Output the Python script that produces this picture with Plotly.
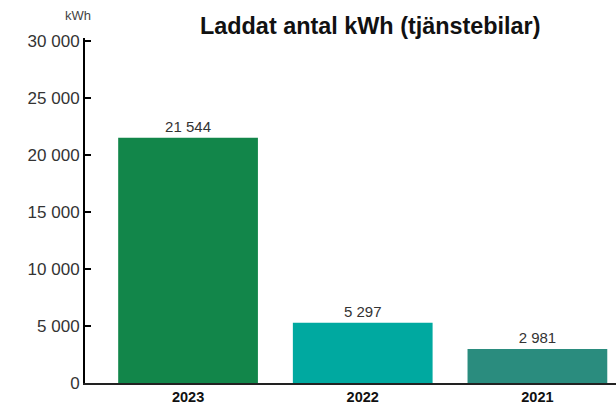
import plotly.graph_objects as go

years = ["2023", "2022", "2021"]
kwh = [21544, 5297, 2981]
value_labels = ["21 544", "5 297", "2 981"]
bar_colors = ["#12864a", "#00a9a0", "#2a8c7e"]
ytick_vals = [0, 5000, 10000, 15000, 20000, 25000, 30000]
ytick_text = ["0", "5 000", "10 000", "15 000", "20 000", "25 000", "30 000"]

FONT = "Liberation Sans, Arial, Helvetica, sans-serif"

W, H = 616, 404
ML, MR, MT, MB = 85, 0, 38, 21
plot_w = W - ML - MR
plot_h = H - MT - MB

def px_x(x):
    return (x - ML) / plot_w

def px_y(y):
    return (H - MB - y) / plot_h

fig = go.Figure()
fig.add_trace(go.Bar(
    x=[0, 1, 2], y=kwh, width=0.8,
    marker=dict(color=bar_colors, line=dict(width=0)),
    text=value_labels, textposition="outside",
    textfont=dict(size=15, color="#333333", family=FONT),
    cliponaxis=False, hoverinfo="skip",
))

fig.update_layout(
    width=W, height=H,
    margin=dict(l=ML, r=MR, t=MT, b=MB, pad=0),
    paper_bgcolor="white", plot_bgcolor="white",
    showlegend=False,
    font=dict(family=FONT, color="#333333"),
    xaxis=dict(
        range=[-0.59, 2.45], tickvals=[0, 1, 2],
        ticktext=["<b>%s</b>" % y for y in years],
        tickfont=dict(size=14.5, color="#111111", family=FONT),
        showline=True, linecolor="#222222", linewidth=2,
        showgrid=False, zeroline=False, ticks="",
        automargin=False,
    ),
    yaxis=dict(
        range=[0, 30300], tickvals=ytick_vals, ticktext=ytick_text,
        tickfont=dict(size=17, color="#333333", family=FONT),
        showline=True, linecolor="#000000", linewidth=2,
        ticks="inside", ticklen=6, tickwidth=2, tickcolor="#000000",
        showgrid=False, zeroline=False, automargin=False,
    ),
    annotations=[
        dict(text="<b>Laddat antal kWh (tjänstebilar)</b>",
             xref="paper", yref="paper", x=px_x(370.5), y=px_y(26),
             xanchor="center", yanchor="middle", showarrow=False,
             font=dict(size=23.4, color="#111111", family=FONT)),
        dict(text="kWh", xref="paper", yref="paper",
             x=px_x(93), y=px_y(15), xanchor="right", yanchor="middle",
             showarrow=False,
             font=dict(size=13, color="#444444", family=FONT)),
    ],
)

fig.write_html("out.html", config={"displayModeBar": False},
               post_script="document.body.style.margin='0';document.body.style.overflow='hidden';")
